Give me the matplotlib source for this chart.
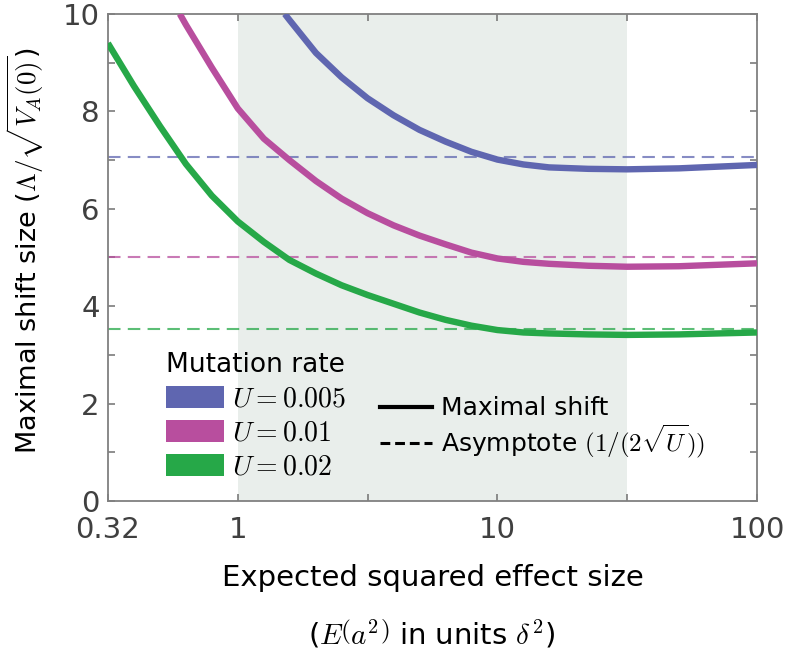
import matplotlib
matplotlib.use("Agg")
import matplotlib.pyplot as plt
from matplotlib.patches import Patch
from matplotlib.lines import Line2D

plt.rcParams['font.family'] = ['DejaVu Sans']
plt.rcParams['mathtext.fontset'] = 'cm'

# values (x = expected squared effect size, y = maximal shift)
x_green = [0.316, 0.398, 0.501, 0.631, 0.794, 1.0, 1.26, 1.58, 2.0, 2.51, 3.16,
           3.98, 5.01, 6.31, 7.94, 10.0, 12.6, 15.8, 22.4, 31.6, 50.0, 100.0]
y_green = [9.40, 8.52, 7.70, 6.92, 6.27, 5.74, 5.32, 4.95, 4.67, 4.43, 4.23,
           4.05, 3.87, 3.72, 3.60, 3.51, 3.46, 3.44, 3.42, 3.41, 3.42, 3.46]

x_magenta = [0.598, 0.631, 0.794, 1.0, 1.26, 1.58, 2.0, 2.51, 3.16, 3.98, 5.01,
             6.31, 7.94, 10.0, 12.6, 15.8, 22.4, 31.6, 50.0, 100.0]
y_magenta = [10.0, 9.78, 8.90, 8.06, 7.44, 7.00, 6.57, 6.21, 5.91, 5.66, 5.45,
             5.27, 5.10, 4.98, 4.91, 4.87, 4.83, 4.81, 4.82, 4.88]

x_blue = [1.517, 1.585, 2.0, 2.51, 3.16, 3.98, 5.01, 6.31, 7.94, 10.0, 12.6,
          15.8, 22.4, 31.6, 50.0, 100.0]
y_blue = [10.0, 9.87, 9.20, 8.70, 8.27, 7.92, 7.62, 7.38, 7.17, 7.01, 6.91,
          6.85, 6.82, 6.81, 6.83, 6.90]

rates = [0.005, 0.01, 0.02]
rate_labels = [r'$U = 0.005$', r'$U = 0.01$', r'$U = 0.02$']
asymptotes = [7.07, 5.0, 3.54]
colors = ['#5F66B0', '#B84E9E', '#26A848']

shade_range = [1.0, 31.62]
xlims = [0.3162, 100]
xticks = [0.3162, 1, 10, 100]
xticklabels = ['0.32', '1', '10', '100']
yticks = [0, 2, 4, 6, 8, 10]

fig = plt.figure(figsize=(7.87, 6.53), dpi=100)
ax = fig.add_axes([0.1372, 0.2328, 0.8247, 0.7458])

ax.axvspan(shade_range[0], shade_range[1], color='#E9EEEB', zorder=0, lw=0)

curves = [(x_blue, y_blue), (x_magenta, y_magenta), (x_green, y_green)]
for (xs, ys), asym, c in zip(curves, asymptotes, colors):
    ax.axhline(asym, color=c, lw=1.5, alpha=0.75, dashes=(6, 3.5), zorder=2)
    ax.plot(xs, ys, color=c, lw=4.6, solid_capstyle='butt',
            solid_joinstyle='round', zorder=3)

ax.set_xscale('log')
ax.set_xlim(xlims)
ax.set_ylim(0, 10)
ax.set_xticks(xticks)
ax.set_xticklabels(xticklabels)
ax.set_xticks([3.162, 31.62], minor=True)
ax.set_xticklabels([], minor=True)
ax.set_yticks(yticks)
ax.set_yticks([1, 3, 5, 7, 9], minor=True)

ax.tick_params(which='both', direction='in', top=True, right=True,
               length=5, width=1.1, color='#707070')
ax.tick_params(axis='x', which='major', labelsize=21, labelcolor='#404040', pad=11)
ax.tick_params(axis='y', which='major', labelsize=21, labelcolor='#404040', pad=6)
for s in ax.spines.values():
    s.set_color('#808080')
    s.set_linewidth(1.3)

ax.set_ylabel(r'Maximal shift size ($\Lambda/\sqrt{V_A(0)}$)', fontsize=19.5)
ax.yaxis.set_label_coords(-0.096, 0.515)
ax.set_xlabel('Expected squared effect size', fontsize=21, labelpad=14)
fig.text(0.549, 0.028, r'($E\left(a^2\right)$ in units $\delta^2$)', fontsize=21,
         ha='center', va='center')

rate_handles = [Patch(facecolor=c, edgecolor='none') for c in colors]
leg1 = ax.legend(rate_handles, rate_labels, title='Mutation rate', loc='upper left',
                 bbox_to_anchor=(0.089, 0.305), frameon=False, fontsize=20,
                 title_fontsize=19, handlelength=2.1, handleheight=0.8,
                 handletextpad=0.3, labelspacing=0.22, borderpad=0,
                 borderaxespad=0, alignment='left')
ax.add_artist(leg1)

style_handles = [Line2D([], [], color='black', lw=3),
                 Line2D([], [], color='black', lw=2.2, dashes=(3.2, 1.6))]
style_labels = ['Maximal shift', r'Asymptote $(1/(2\sqrt{U}))$']
ax.legend(style_handles, style_labels, loc='upper left',
          bbox_to_anchor=(0.419, 0.215), frameon=False, fontsize=18,
          handlelength=2.1, handletextpad=0.35, labelspacing=0.1,
          borderpad=0, borderaxespad=0)

fig.savefig('out.png', dpi=100)
